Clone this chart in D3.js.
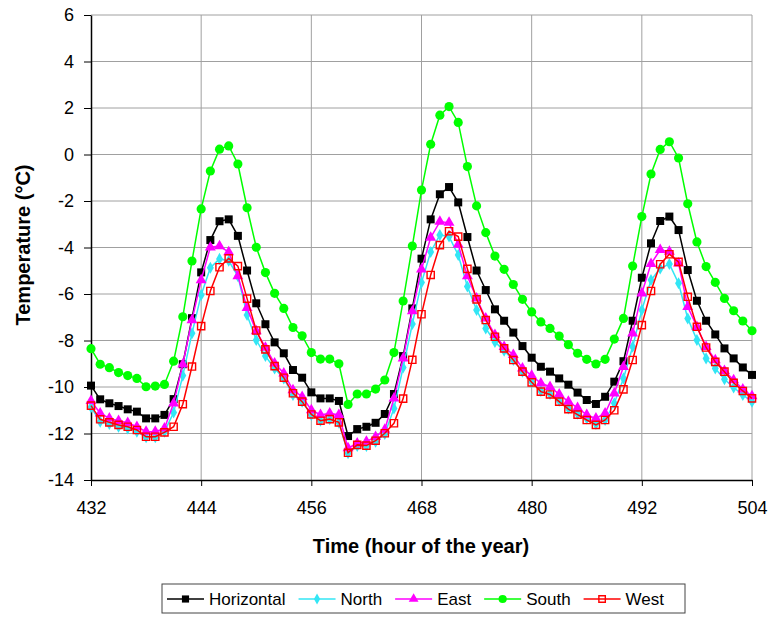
<!DOCTYPE html>
<html lang="en">
<head>
    <meta charset="UTF-8">
    <title>Temperature</title>
    <script src="https://d3js.org/d3.v7.min.js"></script>
    <style>
        body { margin: 0; background: white; }
        text { font-family: "Liberation Sans", Arial, sans-serif; }
    </style>
</head>
<body>
    <script>
        var hours = [432,433,434,435,436,437,438,439,440,441,442,443,
                     444,445,446,447,448,449,450,451,452,453,454,455,
                     456,457,458,459,460,461,462,463,464,465,466,467,
                     468,469,470,471,472,473,474,475,476,477,478,479,
                     480,481,482,483,484,485,486,487,488,489,490,491,
                     492,493,494,495,496,497,498,499,500,501,502,503,504];

        var horizontal = [-9.94,-10.53,-10.70,-10.82,-10.96,-11.06,-11.35,-11.35,-11.20,-10.52,-9.02,-7.04,
                          -5.07,-3.68,-2.87,-2.79,-3.50,-4.99,-6.40,-7.30,-8.08,-8.55,-9.27,-9.60,
                          -10.23,-10.49,-10.49,-10.60,-12.11,-11.81,-11.71,-11.54,-11.16,-10.30,-8.67,-6.62,
                          -4.48,-2.79,-1.71,-1.40,-2.06,-3.55,-4.99,-5.83,-6.66,-7.15,-7.66,-8.24,
                          -8.74,-9.13,-9.34,-9.63,-9.90,-10.24,-10.56,-10.73,-10.42,-9.77,-8.89,-7.15,
                          -5.30,-3.82,-2.86,-2.67,-3.25,-4.97,-6.29,-7.15,-7.74,-8.34,-8.77,-9.16,-9.48];

        var north = [-10.87,-11.49,-11.59,-11.71,-11.78,-11.92,-12.16,-12.16,-11.92,-11.10,-9.51,-7.69,
                     -6.04,-4.87,-4.49,-4.57,-5.23,-6.90,-7.98,-8.67,-9.20,-9.63,-10.34,-10.63,
                     -11.20,-11.45,-11.39,-11.54,-12.85,-12.54,-12.54,-12.35,-12.02,-10.92,-9.16,-7.29,
                     -5.51,-4.19,-3.46,-3.53,-4.32,-5.68,-6.69,-7.48,-8.06,-8.44,-8.84,-9.34,
                     -9.77,-10.17,-10.30,-10.59,-10.92,-11.15,-11.35,-11.59,-11.42,-10.70,-9.63,-8.27,
                     -6.69,-5.40,-4.90,-4.71,-5.54,-7.05,-7.98,-8.77,-9.20,-9.67,-10.02,-10.34,-10.63];

        var east = [-10.60,-11.13,-11.35,-11.45,-11.54,-11.71,-11.92,-11.92,-11.78,-10.70,-9.02,-7.12,
                    -5.40,-3.99,-3.94,-4.20,-5.23,-6.60,-7.60,-8.30,-8.98,-9.41,-10.13,-10.42,
                    -10.99,-11.20,-11.13,-11.20,-12.63,-12.42,-12.35,-12.14,-11.83,-10.49,-8.77,-6.74,
                    -4.94,-3.57,-2.89,-2.93,-3.87,-5.23,-6.19,-7.05,-7.76,-8.27,-8.62,-9.20,
                    -9.51,-9.84,-9.99,-10.32,-10.63,-10.90,-11.20,-11.35,-11.13,-10.27,-9.13,-7.69,
                    -5.97,-4.70,-4.10,-4.18,-4.68,-6.55,-7.41,-8.27,-8.84,-9.30,-9.70,-10.10,-10.39];

        var south = [-8.35,-9.02,-9.17,-9.38,-9.51,-9.63,-9.99,-9.96,-9.89,-8.89,-6.98,-4.58,
                     -2.34,-0.71,0.23,0.37,-0.41,-2.29,-3.99,-5.08,-5.97,-6.62,-7.44,-7.80,
                     -8.52,-8.80,-8.80,-9.00,-10.75,-10.30,-10.30,-10.09,-9.70,-8.52,-6.30,-3.94,
                     -1.53,0.44,1.69,2.06,1.38,-0.52,-2.21,-3.36,-4.37,-4.94,-5.59,-6.23,
                     -6.77,-7.20,-7.48,-7.81,-8.18,-8.55,-8.81,-9.01,-8.81,-7.94,-7.05,-4.80,
                     -2.67,-0.84,0.22,0.55,-0.15,-2.12,-3.76,-4.82,-5.50,-6.19,-6.72,-7.16,-7.58];

        var west = [-10.80,-11.39,-11.52,-11.63,-11.71,-11.85,-12.14,-12.14,-11.95,-11.71,-10.74,-9.12,
                    -7.38,-5.87,-4.85,-4.47,-4.80,-6.20,-7.57,-8.38,-9.10,-9.60,-10.27,-10.63,
                    -11.18,-11.45,-11.38,-11.52,-12.83,-12.49,-12.52,-12.31,-11.99,-11.56,-10.50,-8.83,
                    -6.87,-5.18,-3.90,-3.30,-3.53,-4.92,-6.23,-7.12,-7.84,-8.34,-8.84,-9.34,
                    -9.80,-10.20,-10.32,-10.63,-10.95,-11.19,-11.42,-11.63,-11.42,-11.00,-10.10,-8.84,
                    -7.34,-5.87,-4.72,-4.29,-4.62,-6.12,-7.41,-8.30,-8.92,-9.34,-9.82,-10.17,-10.49];

        var xTicks = [432,444,456,468,480,492,504];
        var yTicks = [-14,-12,-10,-8,-6,-4,-2,0,2,4,6];

        var series = [
            {name:"Horizontal", values:horizontal, color:"#000000", symbol:d3.symbolSquare, size:64, fill:"#000000"},
            {name:"North", values:north, color:"#33e6f5", symbol:d3.symbolDiamond, size:42, fill:"#33e6f5"},
            {name:"East", values:east, color:"#ff00ff", symbol:d3.symbolTriangle, size:52, fill:"#ff00ff"},
            {name:"South", values:south, color:"#00ff00", symbol:d3.symbolCircle, size:66, fill:"#00ff00"},
            {name:"West", values:west, color:"#ff0000", symbol:d3.symbolSquare, size:52, fill:"none"}
        ];

        var svg = d3.select("body").append("svg")
            .attr("width", 770)
            .attr("height", 618);

        var x = d3.scaleLinear().domain([432, 504]).range([91, 752]);
        var y = d3.scaleLinear().domain([-14, 6]).range([480, 15]);

        // grid
        svg.append("g").selectAll("line").data(yTicks.slice(1)).join("line")
            .attr("x1", x(432)).attr("x2", x(504))
            .attr("y1", d => y(d)).attr("y2", d => y(d))
            .style("stroke", "#a0a0a0").style("stroke-width", 1);
        svg.append("g").selectAll("line").data(xTicks.slice(1)).join("line")
            .attr("x1", d => x(d)).attr("x2", d => x(d))
            .attr("y1", y(-14)).attr("y2", y(6))
            .style("stroke", "#a0a0a0").style("stroke-width", 1);

        // axes
        var xAxis = svg.append("g")
            .attr("transform", "translate(0," + y(-14) + ")")
            .call(d3.axisBottom(x).tickValues(xTicks).tickSize(6).tickSizeOuter(0).tickPadding(15));
        var yAxis = svg.append("g")
            .attr("transform", "translate(" + x(432) + ",0)")
            .call(d3.axisLeft(y).tickValues(yTicks).tickFormat(d => String(d))
                .tickSize(7).tickSizeOuter(0).tickPadding(10));
        [xAxis, yAxis].forEach(function(a){
            a.selectAll("text").style("font-size", "18px").style("fill", "#000");
            a.select(".domain").style("stroke", "#000").style("stroke-width", 1.5);
            a.selectAll(".tick line").style("stroke", "#000");
        });

        // titles
        svg.append("text")
            .attr("x", 421).attr("y", 553)
            .attr("text-anchor", "middle")
            .style("font-size", "20px").style("font-weight", "bold")
            .text("Time (hour of the year)");
        svg.append("text")
            .attr("transform", "translate(30,245) rotate(-90)")
            .attr("text-anchor", "middle")
            .style("font-size", "20px").style("font-weight", "bold")
            .text("Temperature (°C)");

        var line = d3.line().x((d, i) => x(hours[i])).y(d => y(d));

        series.forEach(function(s){
            var g = svg.append("g");
            g.append("path")
                .datum(s.values)
                .attr("d", line)
                .style("fill", "none")
                .style("stroke", s.color)
                .style("stroke-width", 1.5);
            g.selectAll("path.m").data(s.values).join("path")
                .attr("class", "m")
                .attr("transform", (d, i) => "translate(" + x(hours[i]) + "," + y(d) + ")")
                .attr("d", d3.symbol().type(s.symbol).size(s.size))
                .style("fill", s.fill)
                .style("stroke", s.fill == "none" ? s.color : "none")
                .style("stroke-width", 1.4);
        });

        // legend
        var legend = svg.append("g");
        legend.append("rect")
            .attr("x", 162).attr("y", 584).attr("width", 523).attr("height", 29)
            .style("fill", "white").style("stroke", "#444").style("stroke-width", 1);
        var lx = 167;
        series.forEach(function(s){
            legend.append("line")
                .attr("x1", lx).attr("x2", lx + 37)
                .attr("y1", 599).attr("y2", 599)
                .style("stroke", s.color).style("stroke-width", 1.5);
            legend.append("path")
                .attr("transform", "translate(" + (lx + 18.5) + ",599)")
                .attr("d", d3.symbol().type(s.symbol).size(s.size * 0.8))
                .style("fill", s.fill)
                .style("stroke", s.fill == "none" ? s.color : "none")
                .style("stroke-width", 1.4);
            var t = legend.append("text")
                .attr("x", lx + 42).attr("y", 605)
                .style("font-size", "17px")
                .text(s.name);
            lx += 42 + t.node().getComputedTextLength() + 13;
        });
    </script>
</body>
</html>
